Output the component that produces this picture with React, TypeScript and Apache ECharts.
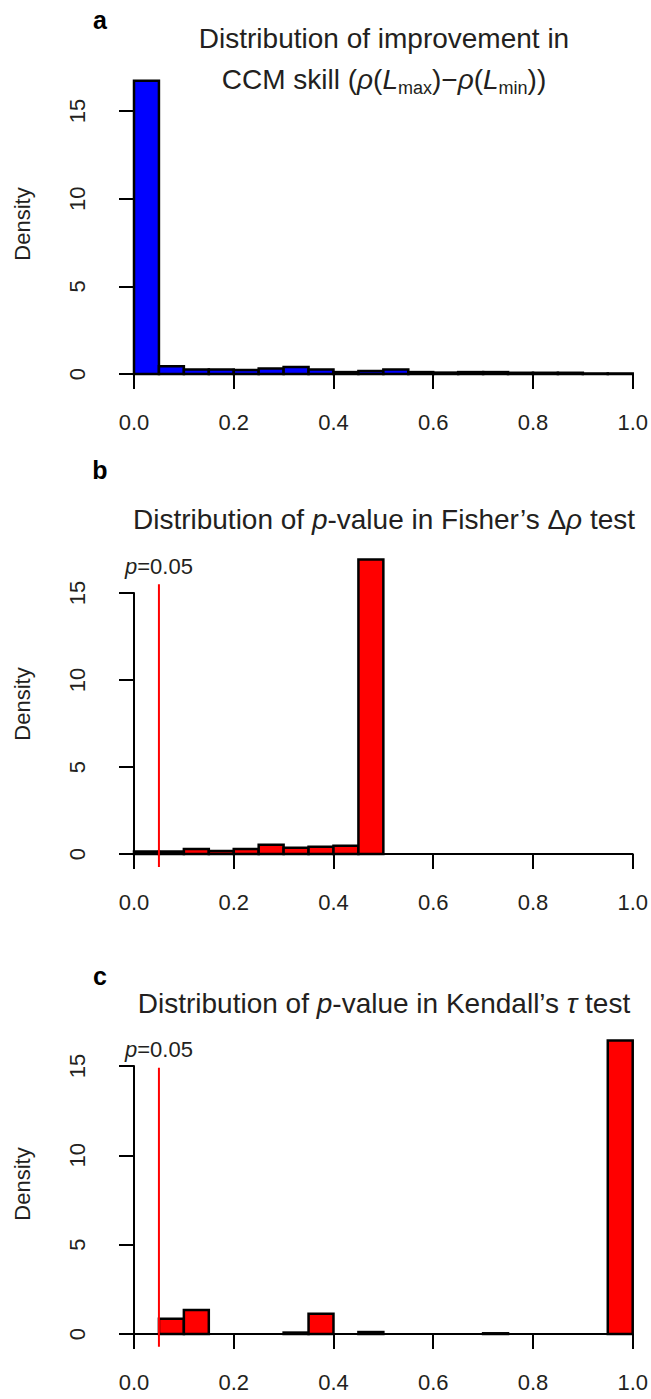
import React, { useEffect, useRef } from "react";
import * as echarts from "echarts";

// Histogram bin edges (width 0.05)
const binEdges = [0, 0.05, 0.1, 0.15, 0.2, 0.25, 0.3, 0.35, 0.4, 0.45, 0.5, 0.55, 0.6, 0.65, 0.7, 0.75, 0.8, 0.85, 0.9, 0.95, 1.0];

// Densities
const densityA = [16.73, 0.44, 0.25, 0.25, 0.23, 0.32, 0.4, 0.25, 0.11, 0.17, 0.25, 0.11, 0.08, 0.11, 0.11, 0.07, 0.07, 0.07, 0.03, 0.03];
const densityB = [0.15, 0.15, 0.29, 0.17, 0.29, 0.53, 0.36, 0.42, 0.48, 16.92, 0, 0, 0, 0, 0, 0, 0, 0, 0, 0];
const densityC = [0, 0.86, 1.34, 0, 0, 0, 0.08, 1.13, 0, 0.11, 0, 0, 0, 0, 0.04, 0, 0, 0, 0, 16.43];

const xTicks = [0, 0.2, 0.4, 0.6, 0.8, 1.0];
const yTicks = [0, 5, 10, 15];

const pThreshold = 0.05;
// [low, high, label y] of the p=0.05 markers in panels b and c
const pLineB = [-0.75, 15.5, 16.5];
const pLineC = [-0.72, 14.9, 15.9];

const TXT = "#231f20";
const FONT = "'Liberation Sans', Arial, Helvetica, sans-serif";

function histData(d: number[]) {
  return d.map((v, i) => [binEdges[i], binEdges[i + 1], v]);
}

function histSeries(idx: number, d: number[], color: string) {
  return {
    type: "custom",
    xAxisIndex: idx,
    yAxisIndex: idx,
    clip: false,
    data: histData(d),
    renderItem: (params: any, api: any) => {
      const x0 = api.value(0);
      const x1 = api.value(1);
      const y = api.value(2);
      const p0 = api.coord([x0, 0]);
      const p1 = api.coord([x1, y]);
      if (y <= 0) {
        return {
          type: "line",
          shape: { x1: p0[0], y1: p0[1], x2: p1[0], y2: p0[1] },
          style: { stroke: "#000", lineWidth: 2 },
        };
      }
      return {
        type: "rect",
        shape: { x: p0[0], y: p1[1], width: p1[0] - p0[0], height: p0[1] - p1[1] },
        style: { fill: color, stroke: "#000", lineWidth: 2.5 },
      };
    },
  };
}

function pLineSeries(idx: number, spec: number[]) {
  return {
    type: "custom",
    xAxisIndex: idx,
    yAxisIndex: idx,
    clip: false,
    data: [[pThreshold, spec[0], spec[1], spec[2]]],
    renderItem: (params: any, api: any) => {
      const x = api.value(0);
      const a = api.coord([x, api.value(1)]);
      const b = api.coord([x, api.value(2)]);
      const t = api.coord([x, api.value(3)]);
      return {
        type: "group",
        children: [
          {
            type: "line",
            shape: { x1: a[0], y1: a[1], x2: b[0], y2: b[1] },
            style: { stroke: "#ff0000", lineWidth: 2 },
          },
          {
            type: "text",
            x: t[0],
            y: t[1],
            style: {
              text: "{i|p}=0.05",
              align: "center",
              verticalAlign: "middle",
              fill: TXT,
              fontSize: 22,
              fontFamily: FONT,
              rich: { i: { fontStyle: "italic", fontSize: 22, fontFamily: FONT, fill: TXT } },
            },
          },
        ],
      };
    },
  };
}

const grids = [
  { left: 134, width: 499, top: 111, height: 263 },
  { left: 134, width: 499, top: 593, height: 261 },
  { left: 134, width: 499, top: 1066, height: 268 },
];

function xAxisFor(i: number) {
  return {
    type: "value",
    gridIndex: i,
    min: xTicks[0],
    max: xTicks[xTicks.length - 1],
    interval: 0.2,
    offset: 12,
    axisLine: { show: true, lineStyle: { color: "#000", width: 2 } },
    axisTick: { show: true, length: 15, inside: false, lineStyle: { color: "#000", width: 2 } },
    splitLine: { show: false },
    axisLabel: {
      margin: 25,
      color: TXT,
      fontSize: 22,
      fontFamily: FONT,
      formatter: (v: number) => v.toFixed(1),
    },
  };
}

function yAxisFor(i: number) {
  return {
    type: "value",
    gridIndex: i,
    min: yTicks[0],
    max: yTicks[yTicks.length - 1],
    interval: 5,
    offset: 19,
    axisLine: { show: true, lineStyle: { color: "#000", width: 2 } },
    axisTick: { show: true, length: 15, inside: false, lineStyle: { color: "#000", width: 2 } },
    splitLine: { show: false },
    axisLabel: {
      rotate: 90,
      margin: 27,
      color: TXT,
      fontSize: 22,
      fontFamily: FONT,
    },
  };
}

function txt(x: number, y: number, text: string, extra: any = {}, rotation = 0) {
  return {
    type: "text",
    x,
    y,
    rotation,
    style: {
      text,
      fill: TXT,
      fontSize: 28,
      fontFamily: FONT,
      align: "center",
      verticalAlign: "middle",
      ...extra,
    },
  };
}

const italic = { fontStyle: "italic", fontSize: 28, fontFamily: FONT, fill: TXT, lineHeight: 36, verticalAlign: "middle" };
const normal = { fontSize: 28, fontFamily: FONT, fill: TXT, lineHeight: 36, verticalAlign: "middle" };
const sub = { fontSize: 18, fontFamily: FONT, fill: TXT, lineHeight: 36, verticalAlign: "bottom" };

export default function App() {
  const ref = useRef<HTMLDivElement>(null);
  useEffect(() => {
    document.body.style.margin = "0";
    if (!ref.current) return;
    const chart = echarts.init(ref.current, undefined, { renderer: "svg" });
    chart.setOption({
      animation: false,
      backgroundColor: "#ffffff",
      grid: grids,
      xAxis: [xAxisFor(0), xAxisFor(1), xAxisFor(2)],
      yAxis: [yAxisFor(0), yAxisFor(1), yAxisFor(2)],
      series: [
        histSeries(0, densityA, "#0000ff"),
        histSeries(1, densityB, "#ff0000"),
        histSeries(2, densityC, "#ff0000"),
        pLineSeries(1, pLineB),
        pLineSeries(2, pLineC),
      ],
      graphic: [
        txt(100, 20, "a", { fontWeight: "bold", fontSize: 25, fill: "#000" }),
        txt(100, 470, "b", { fontWeight: "bold", fontSize: 25, fill: "#000" }),
        txt(100, 976, "c", { fontWeight: "bold", fontSize: 25, fill: "#000" }),
        txt(384, 38, "Distribution of improvement in"),
        txt(384, 79, "{n|CCM skill (}{i|ρ}{n|(}{i|L}{s|max}{n|)−}{i|ρ}{n|(}{i|L}{s|min}{n|))}", {
          rich: { n: normal, i: italic, s: sub },
        }),
        txt(384, 519, "{n|Distribution of }{i|p}{n|-value in Fisher’s Δ}{i|ρ}{n| test}", {
          rich: { n: normal, i: italic },
        }),
        txt(384, 1003, "{n|Distribution of }{i|p}{n|-value in Kendall’s }{i|τ}{n| test}", {
          rich: { n: normal, i: italic },
        }),
        txt(22, 224, "Density", { fontSize: 22 }, Math.PI / 2),
        txt(22, 704, "Density", { fontSize: 22 }, Math.PI / 2),
        txt(22, 1184, "Density", { fontSize: 22 }, Math.PI / 2),
      ],
    });
    return () => chart.dispose();
  }, []);
  return <div ref={ref} style={{ width: 651, height: 1399 }} />;
}
